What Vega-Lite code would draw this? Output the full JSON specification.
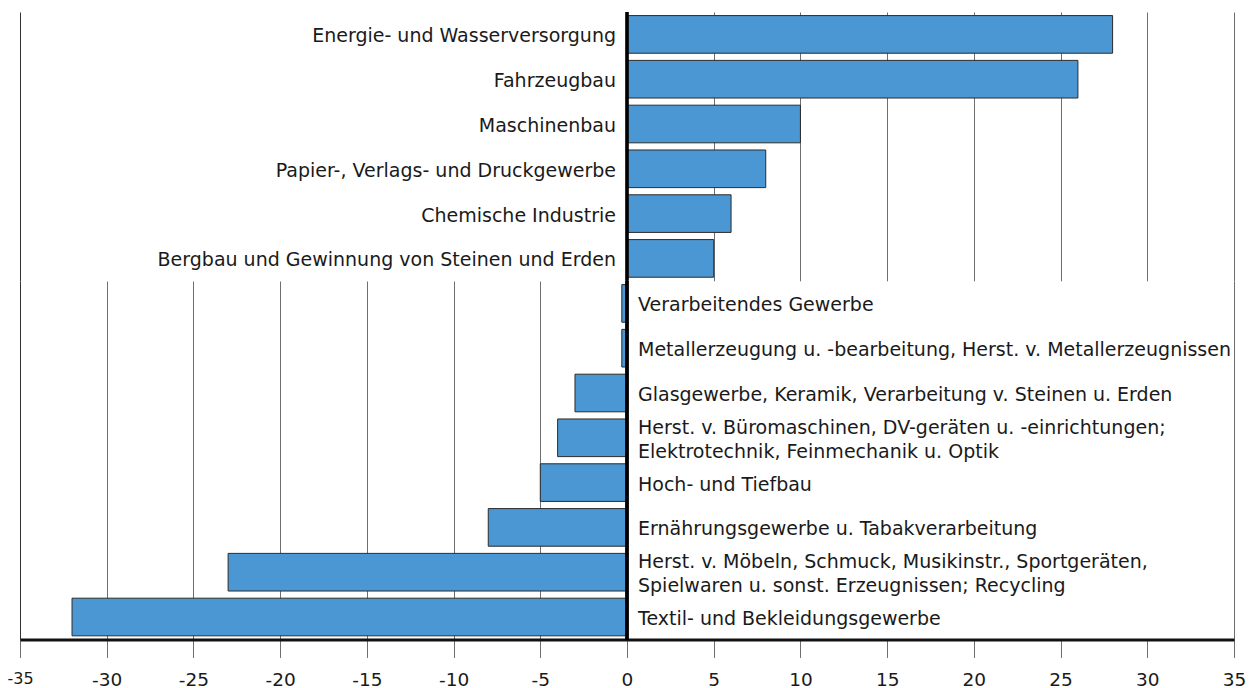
{
  "$schema": "https://vega.github.io/schema/vega-lite/v6.json",
  "padding": {"left": 6, "top": 10, "right": 9, "bottom": 0},
  "background": "white",
  "spacing": 0,
  "bounds": "flush",
  "config": {"view": {"stroke": null}, "font": "DejaVu Sans", "concat": {"spacing": 0}},
  "datasets": {
    "rows": [
      {"branche": "Energie- und Wasserversorgung", "wert": 28, "gruppe": "oben"},
      {"branche": "Fahrzeugbau", "wert": 26, "gruppe": "oben"},
      {"branche": "Maschinenbau", "wert": 10, "gruppe": "oben"},
      {"branche": "Papier-, Verlags- und Druckgewerbe", "wert": 8, "gruppe": "oben"},
      {"branche": "Chemische Industrie", "wert": 6, "gruppe": "oben"},
      {"branche": "Bergbau und Gewinnung von Steinen und Erden", "wert": 5, "gruppe": "oben"},
      {"branche": "Verarbeitendes Gewerbe", "wert": -0.3, "gruppe": "unten"},
      {"branche": "Metallerzeugung u. -bearbeitung, Herst. v. Metallerzeugnissen", "wert": -0.3, "gruppe": "unten"},
      {"branche": "Glasgewerbe, Keramik, Verarbeitung v. Steinen u. Erden", "wert": -3, "gruppe": "unten"},
      {"branche": "Herst. v. Büromaschinen, DV-geräten u. -einrichtungen;\nElektrotechnik, Feinmechanik u. Optik", "wert": -4, "gruppe": "unten"},
      {"branche": "Hoch- und Tiefbau", "wert": -5, "gruppe": "unten"},
      {"branche": "Ernährungsgewerbe u. Tabakverarbeitung", "wert": -8, "gruppe": "unten"},
      {"branche": "Herst. v. Möbeln, Schmuck, Musikinstr., Sportgeräten,\nSpielwaren u. sonst. Erzeugnissen; Recycling", "wert": -23, "gruppe": "unten"},
      {"branche": "Textil- und Bekleidungsgewerbe", "wert": -32, "gruppe": "unten"}
    ]
  },
  "vconcat": [
    {
      "width": 1214,
      "height": 268.8,
      "data": {"name": "rows"},
      "transform": [{"filter": "datum.gruppe == 'oben'"}],
      "layer": [
        {
          "mark": {"type": "bar", "color": "#4b97d3", "stroke": "#2b2b2b", "strokeWidth": 1},
          "encoding": {
            "y": {"field": "branche", "type": "nominal", "sort": null, "axis": null, "scale": {"paddingInner": 0.16, "paddingOuter": 0.08}},
            "x": {"field": "wert", "type": "quantitative", "scale": {"domain": [-35, 35], "nice": false},
              "axis": {"labels": false, "ticks": false, "domain": false, "title": null,
                "minExtent": 0, "maxExtent": 0, "offset": 0,
                "values": [-35, 5, 10, 15, 20, 25, 30, 35],
                "gridColor": {"condition": {"test": "datum.value == -35", "value": "#333333"}, "value": "#6e6e6e"},
                "gridWidth": 1}}
          }
        },
        {
          "mark": {"type": "text", "align": "right", "baseline": "middle", "dx": -11, "dy": 2, "fontSize": 19, "color": "#1a1a1a"},
          "encoding": {
            "y": {"field": "branche", "type": "nominal", "sort": null},
            "x": {"datum": 0},
            "text": {"field": "branche"}
          }
        },
        {
          "mark": {"type": "rule", "color": "#000000", "strokeWidth": 2.5},
          "encoding": {"x": {"datum": 0}}
        }
      ]
    },
    {
      "width": 1214,
      "height": 358.4,
      "data": {"name": "rows"},
      "transform": [{"filter": "datum.gruppe == 'unten'"}],
      "layer": [
        {
          "mark": {"type": "bar", "color": "#4b97d3", "stroke": "#2b2b2b", "strokeWidth": 1},
          "encoding": {
            "y": {"field": "branche", "type": "nominal", "sort": null, "axis": null, "scale": {"paddingInner": 0.16, "paddingOuter": 0.08}},
            "x": {"field": "wert", "type": "quantitative", "scale": {"domain": [-35, 35], "nice": false},
              "axis": {"title": null,
                "values": [-35, -30, -25, -20, -15, -10, -5, 0, 5, 10, 15, 20, 25, 30, 35],
                "labelExpr": "replace(datum.label, '\u2212', '-')",
                "grid": true,
                "gridColor": {"condition": {"test": "datum.value == -35", "value": "#333333"}, "value": "#6e6e6e"},
                "gridOpacity": {"condition": {"test": "datum.value > -1 && datum.value < 35", "value": 0}, "value": 1},
                "gridWidth": 1,
                "domainColor": "#111111", "domainWidth": 3,
                "tickColor": "#6e6e6e", "tickSize": 18, "tickWidth": 1,
                "labelFontSize": {"condition": {"test": "datum.value == -35", "value": 16}, "value": 18.5},
                "labelColor": "#1a1a1a", "labelPadding": 13,
                "labelFlush": false, "labelOverlap": false}}
          }
        },
        {
          "transform": [{"filter": "indexof(datum.branche, '\\n') < 0"}],
          "mark": {"type": "text", "align": "left", "baseline": "middle", "dx": 11, "dy": 2, "fontSize": 19, "color": "#1a1a1a"},
          "encoding": {
            "y": {"field": "branche", "type": "nominal", "sort": null},
            "x": {"datum": 0},
            "text": {"field": "branche"}
          }
        },
        {
          "transform": [{"filter": "indexof(datum.branche, '\\n') >= 0"}],
          "mark": {"type": "text", "align": "left", "baseline": "middle", "dx": 11, "dy": -10, "fontSize": 19, "color": "#1a1a1a", "lineBreak": "\n", "lineHeight": 24},
          "encoding": {
            "y": {"field": "branche", "type": "nominal", "sort": null},
            "x": {"datum": 0},
            "text": {"field": "branche"}
          }
        },
        {
          "mark": {"type": "rule", "color": "#000000", "strokeWidth": 2.5},
          "encoding": {"x": {"datum": 0}}
        }
      ]
    }
  ]
}
